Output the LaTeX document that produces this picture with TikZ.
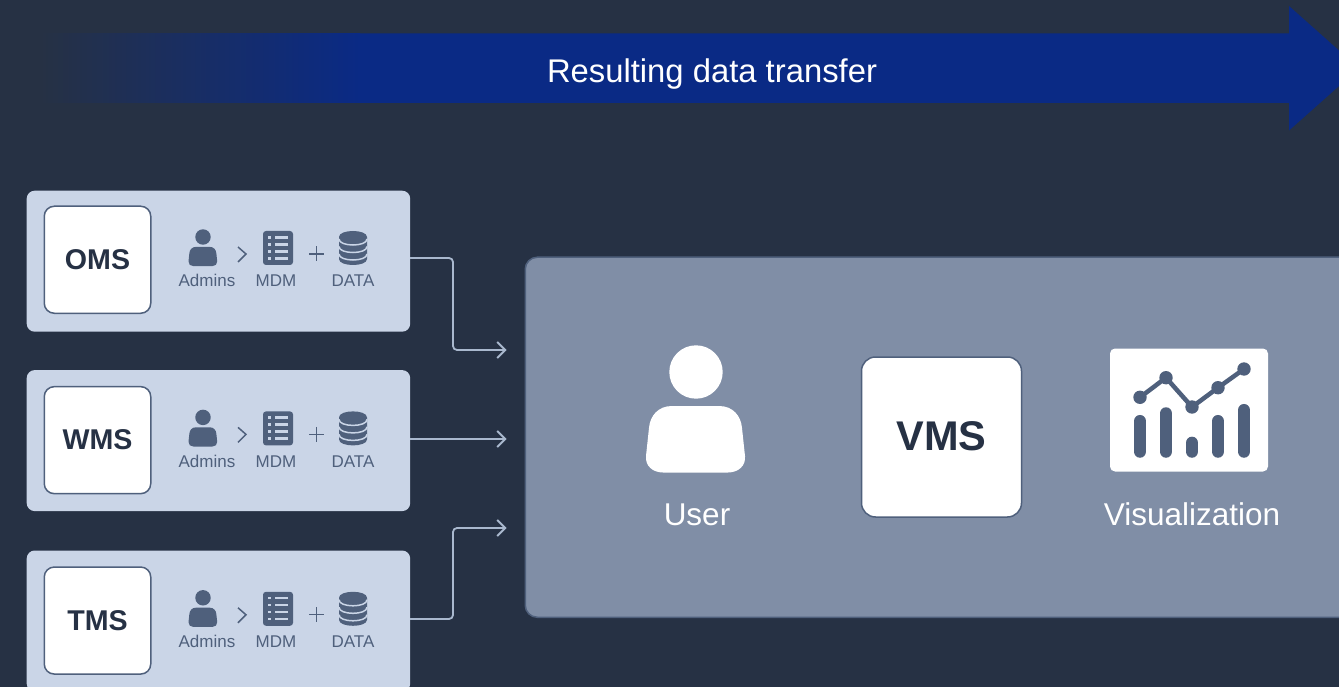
\documentclass[tikz,border=0pt]{standalone}
\usepackage{fontspec}
\setmainfont{Liberation Sans}
\usetikzlibrary{arrows.meta, positioning}
\definecolor{pagebg}{HTML}{263144}
\definecolor{flowblue}{HTML}{0A2A85}
\definecolor{rowfill}{HTML}{CAD5E7}
\definecolor{panelfill}{HTML}{808EA6}
\definecolor{slate}{HTML}{4F607C}
\definecolor{wire}{HTML}{A9B8CE}
\tikzset{%
	row/.style={minimum width=383.5pt, minimum height=141pt, inner sep=0pt, rounded corners=8pt, fill=rowfill},
	sys/.style={draw=slate, line width=1.5pt, fill=white, minimum width=107pt, minimum height=107pt,%
		inner sep=0pt, rounded corners=10pt, text=pagebg, font=\fontsize{28.6}{32}\selectfont\bfseries},
	tag/.style={text=slate, inner sep=0pt, anchor=base, font=\fontsize{17}{20}\selectfont},
	caption/.style={text=white, inner sep=0pt, font=\fontsize{31.5}{38}\selectfont},
	feed/.style={wire, line width=1.8pt, rounded corners=4pt, -{Straight Barb[length=8pt, width=16pt]}},
	person/.pic={
		\path[pic actions] (0,0) circle[radius=26.7];
		\path[pic actions] (-24,34) -- (23,34) .. controls (37,34) and (45,44) .. (46,56) -- (49,84)
			.. controls (50,94) and (42,100.5) .. (32,100.5) -- (-33,100.5)
			.. controls (-43,100.5) and (-51,94) .. (-50,84) -- (-47,56) .. controls (-46,44) and (-38,34) .. (-24,34) -- cycle;
	},
	mdm/.pic={
		\fill[slate, rounded corners=3pt] (-15,-17) rectangle (15,17);
		\foreach \y in {-10.7,-3.7,3.3,10.3} {
			\fill[rowfill] (-10,\y-1.3) rectangle (-7,\y+1.3);
			\fill[rowfill] (-3,\y-1.3) rectangle (10,\y+1.3);
		}
	},
	dbase/.pic={
		\fill[slate] (-14,-11) .. controls (-14,-19) and (14,-19) .. (14,-11) -- (14,11)
			.. controls (14,19) and (-14,19) .. (-14,11) -- cycle;
		\foreach \y in {-9,-1.5,6} {
			\draw[rowfill, line width=1.5pt] (-14,\y) .. controls (-14,\y+8) and (14,\y+8) .. (14,\y);
		}
	},
	stack/.pic={
		\pic[fill=slate, scale=0.29] at (159.5,31.5) {person};
		\draw[slate, line width=1.5pt] (194.5,41.5) -- (202.5,48.5) -- (194.5,56.5);
		\pic at (234.5,42.5) {mdm};
		\draw[slate, line width=1.3pt] (265.5,48.5) -- (280.5,48.5) (273,41) -- (273,56);
		\pic at (309.5,42.5) {dbase};
		\node[tag] (-admins) at (163.5,81.5) {Admins};
		\node[tag] (-mdm) at (232.5,81.5) {MDM};
		\node[tag] (-data) at (309.5,81.5) {DATA};
	}
}
\begin{document}
\begin{tikzpicture}[x=1pt, y=-1pt]
	\useasboundingbox (0,0) rectangle (1339,687);
	\clip (0,0) rectangle (1339,687);
	\fill[pagebg] (0,0) rectangle (1339,687);

	\fill[left color=pagebg, right color=flowblue] (40,33.5) rectangle (360,103);
	\fill[flowblue] (359,33.5) -- (1289,33.5) -- (1289,6) -- (1359,68.3) -- (1289,130.5) -- (1289,103) -- (359,103) -- cycle;
	\node[text=white, inner sep=0pt, font=\fontsize{32.8}{38}\selectfont] (flow) at (712,74.5) {Resulting data transfer};

	\node[row, anchor=north west] (oms-row) at (26.5,190.5) {};
	\node[row] (wms-row) [below=38pt of oms-row] {};
	\node[row] (tms-row) [below=39pt of wms-row] {};
	\node[sys, minimum width=106.5pt] (oms) [below right=15pt and 17pt of oms-row.north west] {OMS};
	\node[sys, minimum width=106.5pt] (wms) [below right=16pt and 17pt of wms-row.north west] {WMS};
	\node[sys, minimum width=106.5pt] (tms) [below right=16pt and 17pt of tms-row.north west] {TMS};
	\pic (oms-stack) at (oms.north west) {stack};
	\pic (wms-stack) at (wms.north west) {stack};
	\pic (tms-stack) at (tms.north west) {stack};

	\node[draw=slate, line width=1.5pt, fill=panelfill, rounded corners=12pt, minimum width=840pt, minimum height=360pt,%
		anchor=north west] (panel) at (524.5,256.5) {};
	\pic[fill=white] at (696,372) {person};
	\node[caption] (user) at (697,514.5) {User};
	\node[sys, minimum width=160pt, minimum height=160pt, rounded corners=14pt, font=\fontsize{41.5}{50}\selectfont\bfseries] (vms) at (941.5,437) {\raisebox{2.5pt}{VMS}};
	\node[fill=white, minimum width=158pt, minimum height=123pt, inner sep=0pt, rounded corners=5pt] (chart) at (1189,410) {};
	\node[caption] (vis) at (1192,514.5) {Visualization};
	\draw[slate, line width=4.5pt] (1140,397.3) -- (1166,377.7) -- (1192,407) -- (1218,387.7) -- (1244,369);
	\foreach \x/\y/\t in {1140/397.3/415, 1166/377.7/407.3, 1192/407/436.7, 1218/387.7/415, 1244/369/404} {
		\fill[slate] (\x,\y) circle[radius=6.7];
		\draw[slate, line width=12.7pt, line cap=round] (\x,\t+6.3) -- (\x,451.4);
	}

	\coordinate (oms-out) at (410,258);
	\coordinate (wms-out) at (410,439);
	\coordinate (tms-out) at (410,619);
	\coordinate (in-top) at (506.5,350);
	\coordinate (in-mid) at (506.5,439);
	\coordinate (in-bot) at (506.5,528);
	\draw[feed] (oms-out) -- ++(43,0) |- (in-top);
	\draw[feed] (wms-out) -- (in-mid);
	\draw[feed] (tms-out) -- ++(43,0) |- (in-bot);
\end{tikzpicture}
\end{document}
